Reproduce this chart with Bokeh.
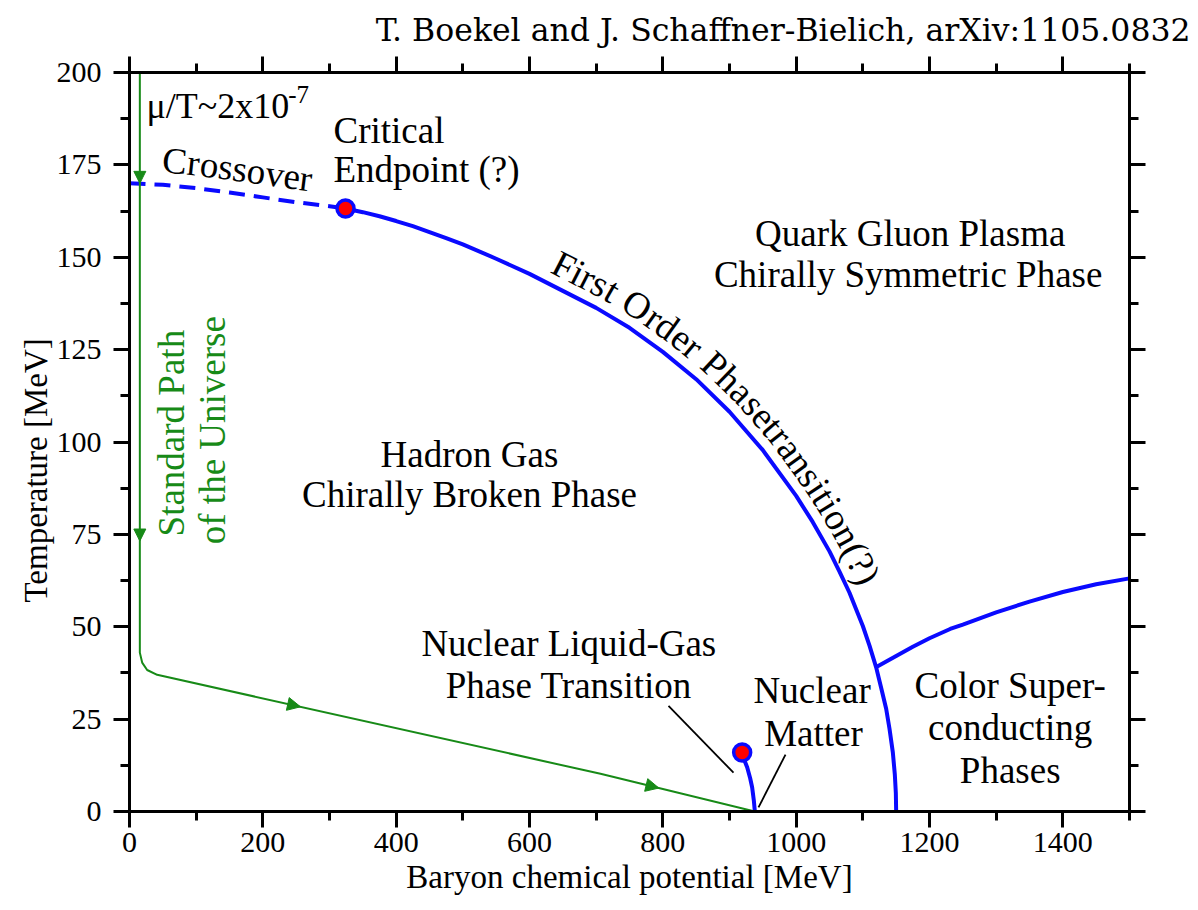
import numpy as np
from bokeh.plotting import figure
from bokeh.models import Range1d, LinearAxis, FixedTicker, Label, Arrow, NormalHead, Title
from bokeh.core.properties import value
from bokeh.embed import file_html
from bokeh.resources import INLINE

# ---- phase boundaries (mu_B in MeV, T in MeV) ----
# crossover, dashed, from mu = 0 to the critical endpoint
cross_mu = [0, 50, 100, 150, 200, 250, 300, 324]
cross_T = [170, 169.6, 168.7, 167.5, 166.2, 164.9, 163.8, 163.2]

# first order transition line
fo_mu = [324, 350, 375, 400, 425, 450, 475, 500, 550, 600, 650, 700, 750, 800, 850, 900,
         950, 1000, 1025, 1050, 1065, 1080, 1100, 1110, 1120, 1128, 1135, 1140, 1145, 1148,
         1149.5, 1150]
fo_T = [163.2, 162.2, 161.1, 159.8, 158.4, 156.8, 155.2, 153.5, 149.6, 145.5, 140.9, 136.3,
        130.9, 124.4, 117.0, 108.2, 97.8, 85.4, 78.3, 70.4, 64.9, 59.2, 50.2, 44.9, 39.0,
        33.1, 27.8, 22.4, 16.0, 10.0, 5.0, 0]

# boundary to the colour-superconducting phases
csc_mu = [1121, 1150, 1175, 1200, 1231, 1250, 1300, 1350, 1400, 1450, 1500]
csc_T = [39.2, 42.1, 44.6, 46.9, 49.4, 50.6, 53.9, 56.8, 59.4, 61.5, 63.1]

# nuclear liquid-gas transition
lg_mu = [919, 922, 926.5, 931, 934, 936.5, 938]
lg_T = [16, 14, 12, 9, 6.5, 3, 0]

# critical endpoints
cep_mu = [324, 919]
cep_T = [163.2, 16]

# standard path of the universe
path_mu = [15.5, 15.5, 19, 26.5, 41.5, 706.5, 938]
path_T = [200, 43, 40.3, 38.3, 37, 10.2, 0]

# direction arrows on the path
arrow_down_T = [170, 73.2]
arrow_slope_mu = [256.5, 794]

# leader lines for the nuclear labels
lead_x0 = [808.5, 984]
lead_y0 = [28.6, 15.4]
lead_x1 = [906, 943.5]
lead_y1 = [10.5, 1.1]

x_major = [0, 200, 400, 600, 800, 1000, 1200, 1400]
x_minor = [100, 300, 500, 700, 900, 1100, 1300, 1500]
y_major = [0, 25, 50, 75, 100, 125, 150, 175, 200]
y_minor = [12.5, 37.5, 62.5, 87.5, 112.5, 137.5, 162.5, 187.5]

BLUE = "#0a0aff"
GREEN = "#178a17"
SERIF = "Liberation Serif"

W, H = 1198, 910
LEFT, RIGHT, TOP, BOTTOM = 129, 69, 71, 99
SX = (W - LEFT - RIGHT) / 1500.0   # px per MeV along x
SY = (H - TOP - BOTTOM) / 200.0    # px per MeV along y
RAISE = 0.27                       # baseline correction, fraction of font size

p = figure(width=W, height=H, x_range=Range1d(0, 1500), y_range=Range1d(0, 200),
           output_backend="svg", toolbar_location=None,
           min_border_left=LEFT, min_border_right=RIGHT,
           min_border_top=TOP, min_border_bottom=BOTTOM)
p.xgrid.visible = False
p.ygrid.visible = False
p.outline_line_color = None
p.background_fill_color = "white"
p.border_fill_color = "white"

p.add_layout(LinearAxis(), "above")
p.add_layout(LinearAxis(), "right")


def style_axis(ax, major, minor, labels):
    ax.ticker = FixedTicker(ticks=major, minor_ticks=minor)
    ax.axis_line_width = 3
    ax.major_tick_line_width = 3
    ax.minor_tick_line_width = 3
    ax.major_tick_in = 0
    ax.minor_tick_in = 0
    ax.major_tick_out = 16
    ax.minor_tick_out = 9
    ax.major_label_text_font = SERIF
    ax.major_label_text_font_size = "30px"
    ax.major_label_text_color = "black"
    if not labels:
        ax.major_label_overrides = {t: "" for t in major}
        ax.major_label_standoff = 0


style_axis(p.below[0], x_major, x_minor, True)
style_axis(p.above[0], x_major, x_minor, False)
style_axis(p.left[0], y_major, y_minor, True)
style_axis(p.right[0], y_major, y_minor, False)
p.below[0].major_label_standoff = 5
p.left[0].major_label_standoff = 12

xb = p.below[0]
xb.axis_label = "Baryon chemical potential [MeV]"
xb.axis_label_text_font = SERIF
xb.axis_label_text_font_size = "33px"
xb.axis_label_text_font_style = "normal"
xb.axis_label_text_color = "black"
xb.axis_label_standoff = 4

p.add_layout(Title(text="Temperature [MeV]", align="left", offset=209, standoff=0,
                   text_font=SERIF, text_font_size="33px", text_font_style="normal",
                   text_color="black"), "left")
p.add_layout(Title(text="T. Boekel and J. Schaffner-Bielich, arXiv:1105.0832", align="right",
                   offset=-61, standoff=18, text_font="DejaVu Serif", text_font_size="31.5px",
                   text_font_style="normal", text_color="black"), "above")

# ---- curves ----
p.line(cross_mu, cross_T, line_color=BLUE, line_width=4, line_dash="16 9")
p.line(fo_mu, fo_T, line_color=BLUE, line_width=4)
p.line(csc_mu, csc_T, line_color=BLUE, line_width=4)
p.line(lg_mu, lg_T, line_color=BLUE, line_width=4)
p.line(path_mu, path_T, line_color=GREEN, line_width=2)
p.segment(lead_x0, lead_y0, lead_x1, lead_y1, line_color="black", line_width=1.8)
p.scatter(cep_mu, cep_T, size=17, fill_color="red", line_color=BLUE, line_width=3.5)

# arrow heads along the path
for t in arrow_down_T:
    p.add_layout(Arrow(end=NormalHead(size=12, fill_color=GREEN, line_color=GREEN, line_width=1),
                       x_start=path_mu[0], y_start=t + 10, x_end=path_mu[0], y_end=t,
                       line_alpha=0))
seg_mu = path_mu[1:]
seg_T = path_T[1:]
for m in arrow_slope_mu:
    p.add_layout(Arrow(end=NormalHead(size=13, fill_color=GREEN, line_color=GREEN, line_width=1),
                       x_start=m - 60, y_start=float(np.interp(m - 60, seg_mu, seg_T)),
                       x_end=m, y_end=float(np.interp(m, seg_mu, seg_T)),
                       line_alpha=0))

# ---- labels ----
# advance widths of the serif face (per 1000 em) for the curved labels
ADV = {"F": 556, "i": 278, "r": 333, "s": 389, "t": 278, " ": 250, "O": 722, "d": 500,
       "e": 444, "P": 556, "h": 500, "a": 444, "n": 500, "o": 500, "(": 333, "?": 444,
       ")": 333, "C": 667, "v": 500}


def text_on_curve(text, mu, T, start_mu, offset_px, size_px, color="black"):
    X = np.asarray(mu, float) * SX
    Y = np.asarray(T, float) * SY
    s = np.concatenate([[0.0], np.cumsum(np.hypot(np.diff(X), np.diff(Y)))])
    pos = float(np.interp(start_mu * SX, X, s))
    off = offset_px + RAISE * size_px
    xs, ys, angs = [], [], []
    for ch in text:
        w = ADV[ch] * size_px / 1000.0
        c = pos + w / 2
        h = max(w / 2, 10)
        x0, y0 = np.interp(c - h, s, X), np.interp(c - h, s, Y)
        x1, y1 = np.interp(c + h, s, X), np.interp(c + h, s, Y)
        ang = float(np.arctan2(y1 - y0, x1 - x0))
        xc, yc = np.interp(c, s, X), np.interp(c, s, Y)
        xs.append(float(xc - np.sin(ang) * off) / SX)
        ys.append(float(yc + np.cos(ang) * off) / SY)
        angs.append(ang)
        pos += w
    p.text(x=xs, y=ys, text=list(text), angle=angs, text_font=value(SERIF),
           text_font_size=f"{size_px}px", text_align="center", text_baseline="alphabetic",
           text_color=color)


text_on_curve("Crossover", cross_mu, cross_T, 46, 15, 37)
text_on_curve("First Order Phasetransition(?)", fo_mu, fo_T, 622, 13, 37.5)


def label(x, y, text, size=37, align="center", color="black", angle=0.0, font=SERIF):
    d = RAISE * size
    x = x - np.sin(angle) * d / SX
    y = y + np.cos(angle) * d / SY
    p.add_layout(Label(x=float(x), y=float(y), text=text, text_font=font,
                       text_font_size=f"{size}px", text_align=align,
                       text_baseline="alphabetic", text_color=color, angle=angle))


label(306, 181.7, "Critical", align="left")
label(306, 171.1, "Endpoint (?)", align="left")
label(1171, 153.8, "Quark Gluon Plasma")
label(1168, 142.7, "Chirally Symmetric Phase")
label(510, 94.0, "Hadron Gas")
label(510, 83.0, "Chirally Broken Phase")
label(659, 42.7, "Nuclear Liquid-Gas")
label(659, 31.4, "Phase Transition")
label(1024, 30.0, "Nuclear")
label(1026, 18.4, "Matter")
label(1321, 31.4, "Color Super-")
label(1321, 20.0, "conducting")
label(1321, 8.4, "Phases")
label(25.5, 188.3, "\u03bc/T~2x10", size=36, align="left")
label(238, 192.3, "-7", size=25, align="left")
label(78, 102.4, "Standard Path", size=37, color=GREEN, angle=np.pi / 2)
label(139.5, 103.2, "of the Universe", size=37, color=GREEN, angle=np.pi / 2)

open("out.html", "w").write(file_html(p, INLINE))
